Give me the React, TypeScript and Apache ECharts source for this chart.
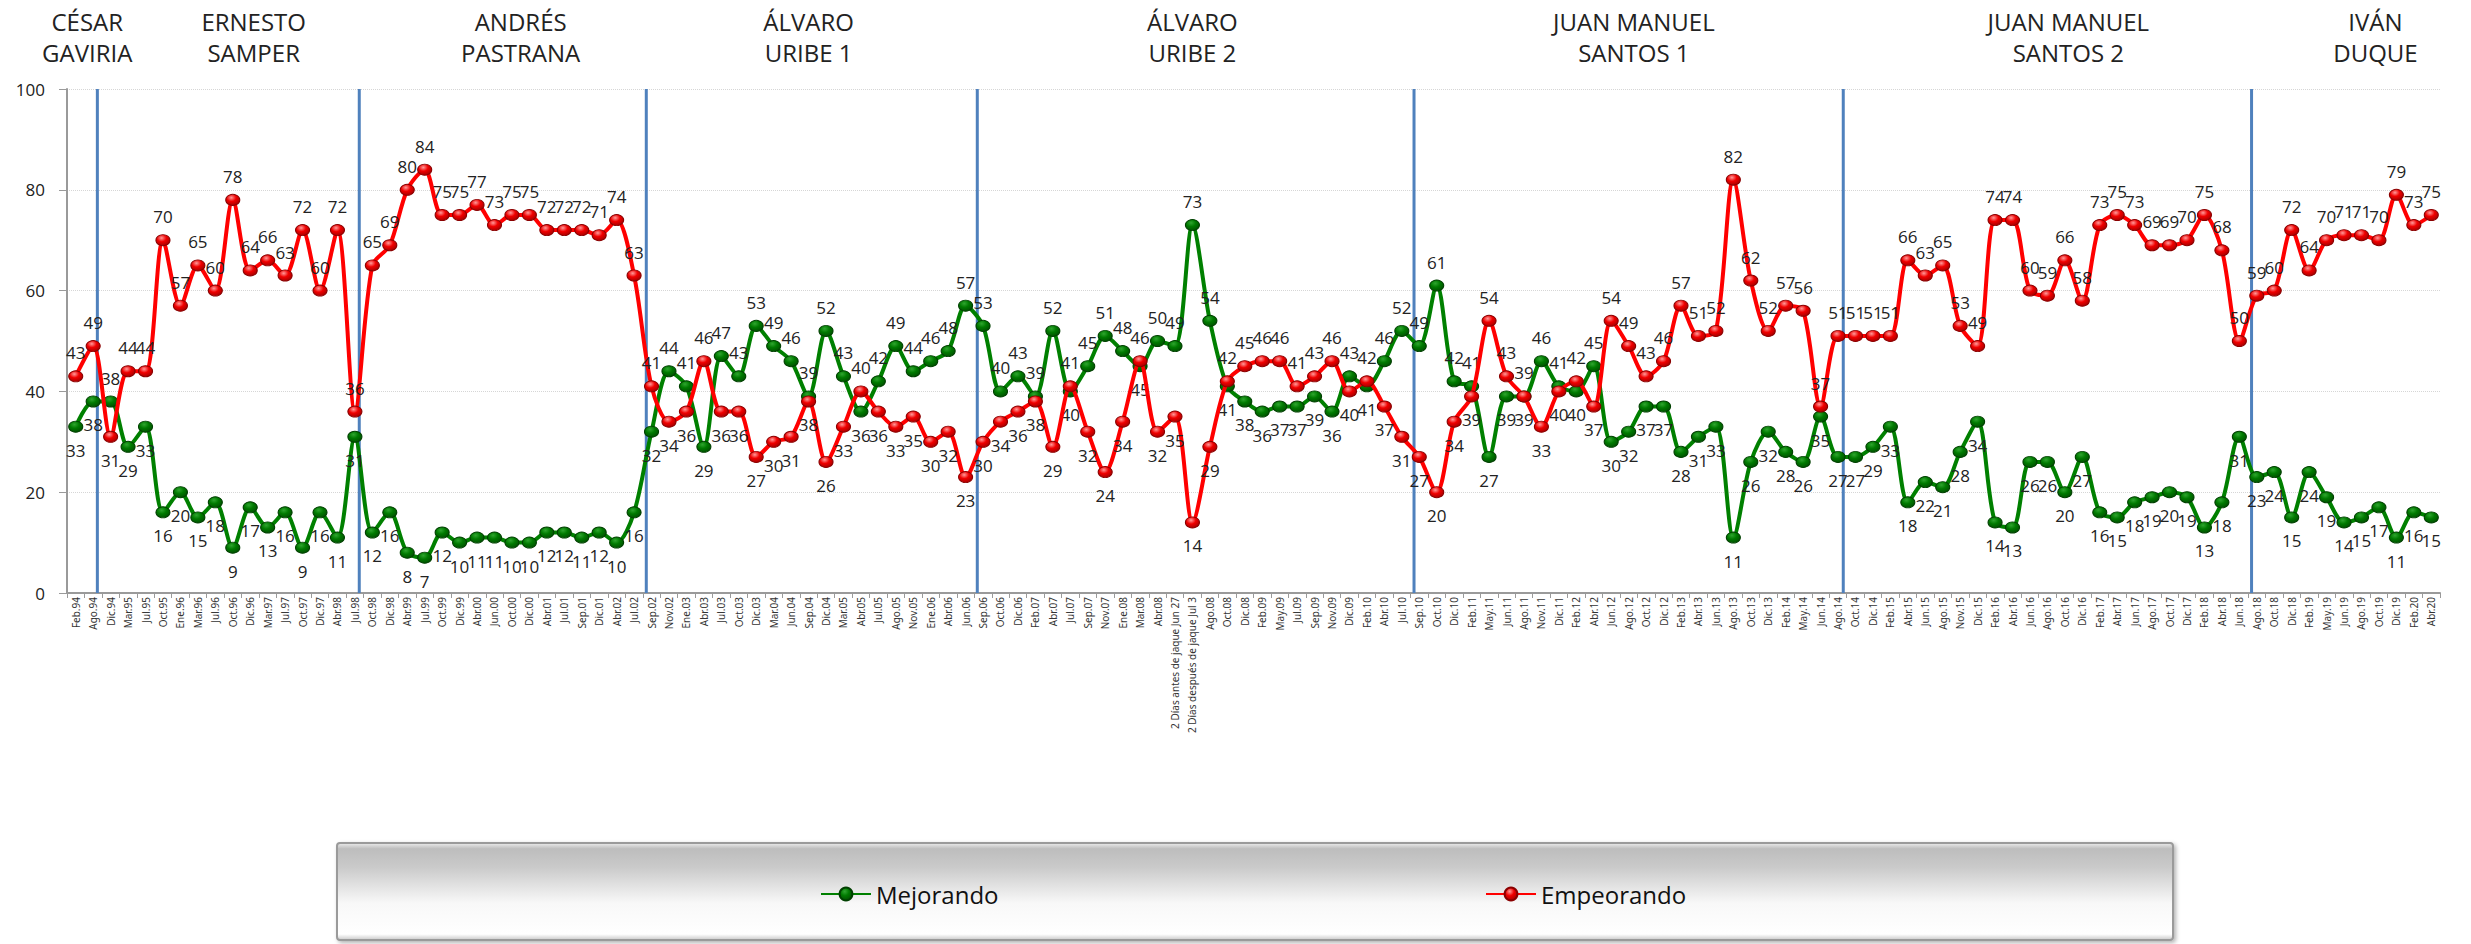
import React, { useEffect, useRef } from 'react';
import * as echarts from 'echarts';

const categories = [
  'Feb.94','Ago.94','Dic.94','Mar.95','Jul.95','Oct.95','Ene.96','Mar.96','Jul.96','Oct.96','Dic.96','Mar.97','Jul.97','Oct.97','Dic.97','Abr.98','Jul.98',
  'Oct.98','Dic.98','Abr.99','Jul.99','Oct.99','Dic.99','Abr.00','Jun.00','Oct.00','Dic.00','Abr.01','Jul.01','Sep.01','Dic.01','Abr.02','Jul.02',
  'Sep.02','Nov.02','Ene.03','Abr.03','Jul.03','Oct.03','Dic.03','Mar.04','Jun.04','Sep.04','Dic.04','Mar.05','Abr.05','Jul.05','Ago.05','Nov.05','Ene.06','Abr.06','Jun.06',
  'Sep.06','Oct.06','Dic.06','Feb.07','Abr.07','Jul.07','Sep.07','Nov.07','Ene.08','Mar.08','Abr.08','2 Días antes de jaque Jun 27','2 Días después de jaque Jul 3',
  'Ago.08','Oct.08','Dic.08','Feb.09','May.09','Jul.09','Sep.09','Nov.09','Dic.09','Feb.10','Abr.10','Jul.10','Sep.10','Oct.10','Dic.10',
  'Feb.11','May.11','Jun.11','Ago.11','Nov.11','Dic.11','Feb.12','Abr.12','Jun.12','Ago.12','Oct.12','Dic.12','Feb.13','Abr.13','Jun.13','Ago.13',
  'Oct.13','Dic.13','Feb.14','May.14','Jun.14','Ago.14','Oct.14','Dic.14','Feb.15','Abr.15','Jun.15','Ago.15','Nov.15','Dic.15','Feb.16','Abr.16',
  'Jun.16','Ago.16','Oct.16','Dic.16','Feb.17','Abr.17','Jun.17','Ago.17','Oct.17','Dic.17','Feb.18','Abr.18','Jun.18','Ago.18','Oct.18','Dic.18',
  'Feb.19','May.19','Jun.19','Ago.19','Oct.19','Dic.19','Feb.20','Abr.20'
];

const mejorando = [
  33,38,38,29,33,16,20,15,18,9,17,13,16,9,16,11,31,
  12,16,8,7,12,10,11,11,10,10,12,12,11,12,10,16,
  32,44,41,29,47,43,53,49,46,39,52,43,36,42,49,44,46,48,57,
  53,40,43,39,52,40,45,51,48,45,50,49,73,
  54,41,38,36,37,37,39,36,43,41,46,52,49,61,42,
  41,27,39,39,46,41,40,45,30,32,37,37,28,31,33,11,
  26,32,28,26,35,27,27,29,33,18,22,21,28,34,14,13,
  26,26,20,27,16,15,18,19,20,19,13,18,31,23,24,15,
  24,19,14,15,17,11,16,15
];

const empeorando = [
  43,49,31,44,44,70,57,65,60,78,64,66,63,72,60,72,36,
  65,69,80,84,75,75,77,73,75,75,72,72,72,71,74,63,
  41,34,36,46,36,36,27,30,31,38,26,33,40,36,33,35,30,32,23,
  30,34,36,38,29,41,32,24,34,46,32,35,14,
  29,42,45,46,46,41,43,46,40,42,37,31,27,20,34,
  39,54,43,39,33,40,42,37,54,49,43,46,57,51,52,82,
  62,52,57,56,37,51,51,51,51,66,63,65,53,49,74,74,
  60,59,66,58,73,75,73,69,69,70,75,68,50,59,60,72,
  64,70,71,71,70,79,73,75
];

const yTicks = [0, 20, 40, 60, 80, 100];

const presidents = [
  'CÉSAR\nGAVIRIA', 'ERNESTO\nSAMPER', 'ANDRÉS\nPASTRANA', 'ÁLVARO\nURIBE 1',
  'ÁLVARO\nURIBE 2', 'JUAN MANUEL\nSANTOS 1', 'JUAN MANUEL\nSANTOS 2', 'IVÁN\nDUQUE'
];
// positions along the category sequence (in category widths from the left edge)
const termDividers = [1.74, 16.75, 33.2, 52.17, 77.2, 101.8, 125.2];
const headerCenters = [1.16, 10.7, 26.0, 42.5, 64.5, 89.8, 114.7, 132.3];

const FONT = '"Open Sans", "Noto Sans", sans-serif';

export default function App() {
  const ref = useRef<HTMLDivElement>(null);

  useEffect(() => {
    if (!ref.current) return;
    const chart = echarts.init(ref.current, undefined, { renderer: 'svg' });

    const redFill = new echarts.graphic.RadialGradient(0.4, 0.3, 0.75, [
      { offset: 0, color: '#ff9a9a' },
      { offset: 0.45, color: '#f00000' },
      { offset: 1, color: '#a00000' },
    ]);
    const greenFill = new echarts.graphic.RadialGradient(0.4, 0.3, 0.75, [
      { offset: 0, color: '#2fa52f' },
      { offset: 0.45, color: '#007a00' },
      { offset: 1, color: '#004d00' },
    ]);

    const mejData = mejorando.map((v, i) => ({
      value: v,
      label: { position: v > empeorando[i] ? 'top' : 'bottom' },
    }));
    const empData = empeorando.map((v, i) => ({
      value: v,
      label: { position: v >= mejorando[i] ? 'top' : 'bottom' },
    }));

    const labelStyle = {
      show: true,
      fontSize: 17,
      color: '#222',
      fontFamily: FONT,
      distance: 9,
    };

    const n = categories.length;

    const option: any = {
      animation: false,
      backgroundColor: '#ffffff',
      textStyle: { fontFamily: FONT },
      grid: { left: 67, right: 31, top: 89, bottom: 351, containLabel: false },
      graphic: [
        {
          type: 'rect',
          z: 0,
          shape: { x: 337, y: 843, width: 1836, height: 97, r: 3 },
          style: {
            fill: new echarts.graphic.LinearGradient(0, 0, 0, 1, [
              { offset: 0, color: '#ececec' },
              { offset: 0.06, color: '#bdbdbd' },
              { offset: 0.25, color: '#cacaca' },
              { offset: 0.62, color: '#f8f8f8' },
              { offset: 0.94, color: '#ffffff' },
              { offset: 1, color: '#c8c8c8' },
            ]),
            stroke: '#9a9a9a',
            lineWidth: 2,
            shadowBlur: 4,
            shadowOffsetX: 2,
            shadowOffsetY: 2,
            shadowColor: 'rgba(0,0,0,0.3)',
          },
        },
      ],
      legend: [
        {
          data: ['Mejorando'],
          left: 815,
          top: 877,
          itemWidth: 50,
          itemHeight: 16,
          itemGap: 4,
          textStyle: { fontSize: 24, color: '#111', fontFamily: FONT },
          z: 10,
        },
        {
          data: ['Empeorando'],
          left: 1480,
          top: 877,
          itemWidth: 50,
          itemHeight: 16,
          textStyle: { fontSize: 24, color: '#111', fontFamily: FONT },
          z: 10,
        },
      ],
      xAxis: [
        {
          type: 'category',
          data: categories,
          boundaryGap: true,
          axisLine: { show: true, lineStyle: { color: '#9a9a9a', width: 2 } },
          axisTick: { show: true, interval: 0, length: 5, lineStyle: { color: '#9a9a9a' } },
          axisLabel: {
            interval: 0,
            rotate: 90,
            fontSize: 10,
            color: '#333',
            margin: 4,
            fontFamily: '"Noto Sans", sans-serif',
          },
          splitLine: { show: false },
        },
        {
          type: 'value',
          min: 0,
          max: n,
          show: false,
          splitLine: { show: false },
        },
      ],
      yAxis: {
        type: 'value',
        min: yTicks[0],
        max: yTicks[yTicks.length - 1],
        interval: 20,
        axisLine: { show: true, lineStyle: { color: '#9a9a9a', width: 2 } },
        axisTick: { show: true, length: 8, lineStyle: { color: '#9a9a9a' } },
        axisLabel: { fontSize: 17, color: '#222', margin: 22, fontFamily: FONT },
        splitLine: { show: true, lineStyle: { color: '#d6d6d6', type: 'dotted', width: 1 } },
      },
      series: [
        {
          name: 'Mejorando',
          type: 'line',
          data: mejData,
          smooth: 0.3,
          symbol: 'circle',
          symbolSize: [14, 11],
          lineStyle: { color: '#008000', width: 4 },
          itemStyle: { color: greenFill, borderColor: '#004000', borderWidth: 1 },
          label: labelStyle,
          z: 3,
        },
        {
          name: 'Empeorando',
          type: 'line',
          data: empData,
          smooth: 0.3,
          symbol: 'circle',
          symbolSize: [14, 11],
          lineStyle: { color: '#ff0000', width: 4 },
          itemStyle: { color: redFill, borderColor: '#8a0000', borderWidth: 1 },
          label: labelStyle,
          z: 4,
        },
        {
          name: 'dividers',
          type: 'custom',
          xAxisIndex: 1,
          yAxisIndex: 0,
          clip: false,
          silent: true,
          z: 2,
          data: termDividers.map((v) => [v, 0]),
          renderItem: (params: any, api: any) => {
            const x = api.value(0);
            const top = api.coord([x, 100]);
            const bot = api.coord([x, 0]);
            return {
              type: 'line',
              shape: { x1: top[0], y1: top[1], x2: bot[0], y2: bot[1] },
              style: { stroke: '#4f81bd', lineWidth: 3 },
            };
          },
        },
        {
          name: 'headers',
          type: 'custom',
          xAxisIndex: 1,
          yAxisIndex: 0,
          clip: false,
          silent: true,
          data: headerCenters.map((v) => [v, 100]),
          renderItem: (params: any, api: any) => {
            const p = api.coord([api.value(0), 100]);
            return {
              type: 'text',
              x: p[0],
              y: p[1] - 52,
              style: {
                text: presidents[params.dataIndex],
                fill: '#222',
                fontSize: 24,
                fontFamily: FONT,
                align: 'center',
                verticalAlign: 'middle',
                lineHeight: 31,
              },
            };
          },
        },
      ],
    };

    chart.setOption(option);
    return () => chart.dispose();
  }, []);

  return (
    <div
      ref={ref}
      style={{ position: 'absolute', left: 0, top: 0, width: 2471, height: 944, background: '#fff' }}
    />
  );
}
